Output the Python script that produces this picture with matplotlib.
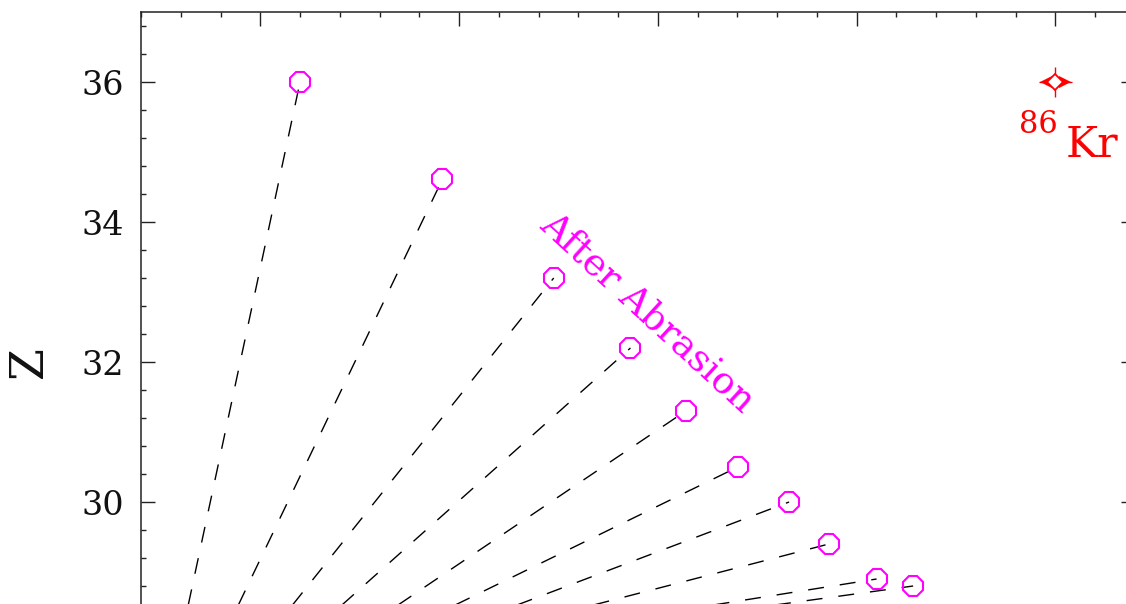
import matplotlib
matplotlib.use("Agg")
import matplotlib.pyplot as plt
from matplotlib.ticker import MultipleLocator

# --- data ---
# prefragments "after abrasion" (magenta octagons)
after_N = [31.00, 34.58, 37.38, 39.31, 40.70, 42.01, 43.30, 44.30, 45.50, 46.42]
after_Z = [36.00, 34.61, 33.20, 32.20, 31.30, 30.50, 30.00, 29.40, 28.90, 28.80]
# lower ends of the dashed connecting lines (just below the visible edge)
lower_N = [28.14, 29.34, 30.63, 31.80, 33.13, 34.44, 35.86, 37.51, 39.98, 41.30]
lower_Z = [28.40, 28.40, 28.40, 28.40, 28.40, 28.40, 28.40, 28.40, 28.40, 28.40]
# projectile 86Kr
kr_N = [50.0]
kr_Z = [36.0]

y_ticks = [30, 32, 34, 36]

plt.rcParams['font.family'] = ['DejaVu Serif']

W, H = 1126, 604
fig = plt.figure(figsize=(W / 100, H / 100), dpi=100)
ax = fig.add_axes([141 / W, 1 - 712 / H, 994 / W, 700 / H])
ax.set_xlim(27, 52)
ax.set_ylim(27, 37)

for n0, z0, n1, z1 in zip(lower_N, lower_Z, after_N, after_Z):
    ax.plot([n0, n1], [z0, z1], color='black', lw=1.0,
            linestyle=(0, (11.5, 11.5)), zorder=2)

ax.plot(after_N, after_Z, linestyle='none', marker='8', markersize=15,
        markerfacecolor='none', markeredgecolor='#ff00ff', markeredgewidth=1.5,
        zorder=3)

# projectile marker: error bars, wings, then open diamond on top
ax.errorbar(kr_N, kr_Z, xerr=0.42, yerr=0.22, fmt='none', ecolor='red',
            elinewidth=1.0, capsize=0, zorder=3)
ax.plot([k - 0.25 for k in kr_N], kr_Z, linestyle='none', marker='<',
        markersize=9, color='red', markeredgewidth=0, zorder=3)
ax.plot([k + 0.25 for k in kr_N], kr_Z, linestyle='none', marker='>',
        markersize=9, color='red', markeredgewidth=0, zorder=3)
ax.plot(kr_N, kr_Z, linestyle='none', marker='D', markersize=8.2,
        markerfacecolor='white', markeredgecolor='red', markeredgewidth=1.3,
        zorder=4)

ax.text(50.05, 35.27, '86', color='red', fontsize=22, ha='right',
        va='baseline')
ax.text(50.26, 34.93, 'Kr', color='red', fontsize=31, ha='left',
        va='baseline')

ax.text(39.74, 32.71, 'After Abrasion', color='#ff00ff', fontsize=27,
        rotation=-42.5, rotation_mode='anchor', ha='center', va='center')

ax.text(-0.112, 0.5, 'Z', transform=ax.transAxes, rotation=90, fontsize=33,
        ha='center', va='center', color='#111111')

# ticks
ax.set_yticks(y_ticks)
ax.yaxis.set_minor_locator(MultipleLocator(0.4))
ax.xaxis.set_major_locator(MultipleLocator(5))
ax.xaxis.set_minor_locator(MultipleLocator(1))
ax.tick_params(which='both', direction='in', top=True, right=True,
               bottom=True, left=True, width=1.0, color='#222222',
               labelbottom=False)
ax.tick_params(which='major', length=10.3)
ax.tick_params(which='minor', length=3.6)
ax.tick_params(axis='y', labelsize=24, pad=12, labelcolor='#111111')
for s in ax.spines.values():
    s.set_linewidth(1.1)
    s.set_color('#222222')

fig.savefig('out.png', dpi=100)
